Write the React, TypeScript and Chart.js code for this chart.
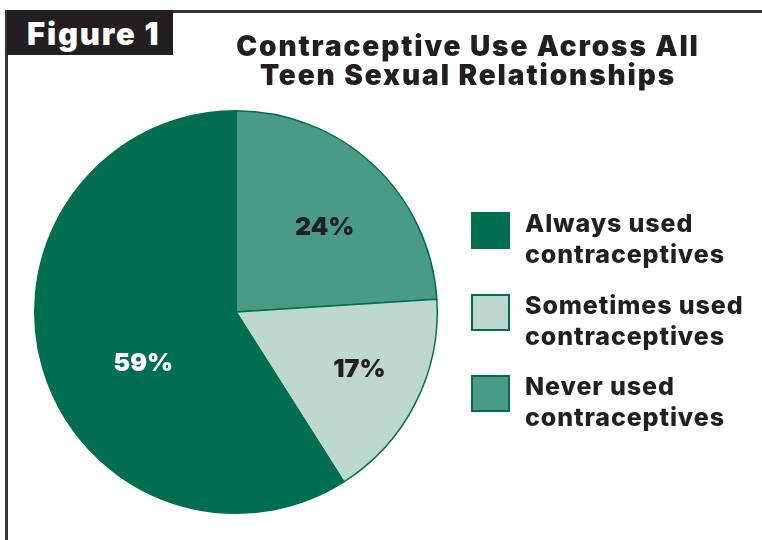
import React, { useEffect, useRef } from "react";
import { Chart, registerables } from "chart.js";

Chart.register(...registerables);

// ---- data ----
const categories = ["Never used contraceptives", "Sometimes used contraceptives", "Always used contraceptives"];
const legendLines = [
  ["Never used", "contraceptives"],
  ["Sometimes used", "contraceptives"],
  ["Always used", "contraceptives"],
];
const shares = [24, 17, 59];
const legendOrder = [2, 1, 0];
const titleLines = ["Contraceptive Use Across All", "Teen Sexual Relationships"];
const figureLabel = "Figure 1";

// ---- styles ----
const sliceColors = ["#4a9b86", "#bcd8cf", "#006f51"];
const edgeColor = "#006f51";
const labelColors = ["#231f20", "#231f20", "#ffffff"];
const labelPlacement = [
  { angle: 2.8, radius: 0.613 },
  { angle: -2.7, radius: 0.673 },
  { angle: -12.1, radius: 0.523 },
];
const FONT = "Inter, 'DejaVu Sans', sans-serif";
const TEXT = "#231f20";

const pctLabels = {
  id: "pctLabels",
  afterDatasetsDraw(chart: any) {
    const ctx = chart.ctx;
    const meta = chart.getDatasetMeta(0);
    ctx.save();
    ctx.font = `900 25px ${FONT}`;
    ctx.textAlign = "center";
    ctx.textBaseline = "alphabetic";
    meta.data.forEach((arc: any, i: number) => {
      const p = arc.getProps(["x", "y", "startAngle", "endAngle", "outerRadius"], true);
      const mid = (p.startAngle + p.endAngle) / 2 + (labelPlacement[i].angle * Math.PI) / 180;
      const r = p.outerRadius * labelPlacement[i].radius;
      const x = p.x + Math.cos(mid) * r;
      const y = p.y + Math.sin(mid) * r;
      ctx.fillStyle = labelColors[i];
      ctx.fillText(`${chart.data.datasets[0].data[i]}%`, x, y + 9);
    });
    ctx.restore();
  },
};

export default function App() {
  const ref = useRef<HTMLCanvasElement>(null);
  useEffect(() => {
    if (!ref.current) return;
    const chart = new Chart(ref.current, {
      type: "pie",
      data: {
        labels: categories,
        datasets: [
          {
            data: shares,
            backgroundColor: sliceColors,
            borderColor: edgeColor,
            borderWidth: 1.5,
          },
        ],
      },
      options: {
        responsive: false,
        animation: false,
        layout: { padding: { left: 34, right: 324, top: 110, bottom: 26 } },
        plugins: {
          legend: { display: false },
          tooltip: { enabled: false },
          title: { display: false },
        },
      },
      plugins: [pctLabels],
    });
    return () => chart.destroy();
  }, []);

  return (
    <div
      style={{
        position: "absolute",
        left: 0,
        top: 0,
        width: 762,
        height: 540,
        background: "#fff",
        overflow: "hidden",
        fontFamily: FONT,
        color: TEXT,
      }}
    >
      <canvas ref={ref} width={762} height={540} style={{ position: "absolute", left: 0, top: 0, width: 762, height: 540 }} />
      {/* frame */}
      <div style={{ position: "absolute", left: 6, top: 10, width: 756, height: 2.5, background: "#333" }} />
      <div style={{ position: "absolute", left: 5, top: 10, width: 2.5, height: 530, background: "#333" }} />
      {/* figure tab */}
      <div style={{ position: "absolute", left: 7, top: 10, width: 166, height: 45, background: "#231f20" }} />
      <div
        style={{
          position: "absolute",
          left: 27,
          top: 18,
          fontSize: 31,
          lineHeight: "31px",
          fontWeight: 900,
          color: "#fff",
          whiteSpace: "nowrap",
          letterSpacing: 1.8,
        }}
      >
        {figureLabel}
      </div>
      {/* title */}
      <div
        style={{
          position: "absolute",
          left: 168,
          top: 32,
          width: 600,
          textAlign: "center",
          fontSize: 28,
          lineHeight: "29px",
          fontWeight: 900,
          whiteSpace: "nowrap",
          letterSpacing: 1.9,
        }}
      >
        {titleLines.map((t, i) => (
          <div key={i}>{t}</div>
        ))}
      </div>
      {/* legend */}
      {legendOrder.map((idx, k) => (
        <React.Fragment key={idx}>
          <div
            style={{
              position: "absolute",
              left: 471,
              top: 212 + k * 81.5,
              width: 39,
              height: 37,
              boxSizing: "border-box",
              background: sliceColors[idx],
              border: `2.5px solid ${edgeColor}`,
            }}
          />
          <div
            style={{
              position: "absolute",
              left: 525,
              top: 208 + k * 81.5,
              fontSize: 25,
              lineHeight: "31px",
              fontWeight: 800,
              whiteSpace: "nowrap",
              letterSpacing: 0.9,
            }}
          >
            {legendLines[idx].map((t, j) => (
              <div key={j}>{t}</div>
            ))}
          </div>
        </React.Fragment>
      ))}
    </div>
  );
}
